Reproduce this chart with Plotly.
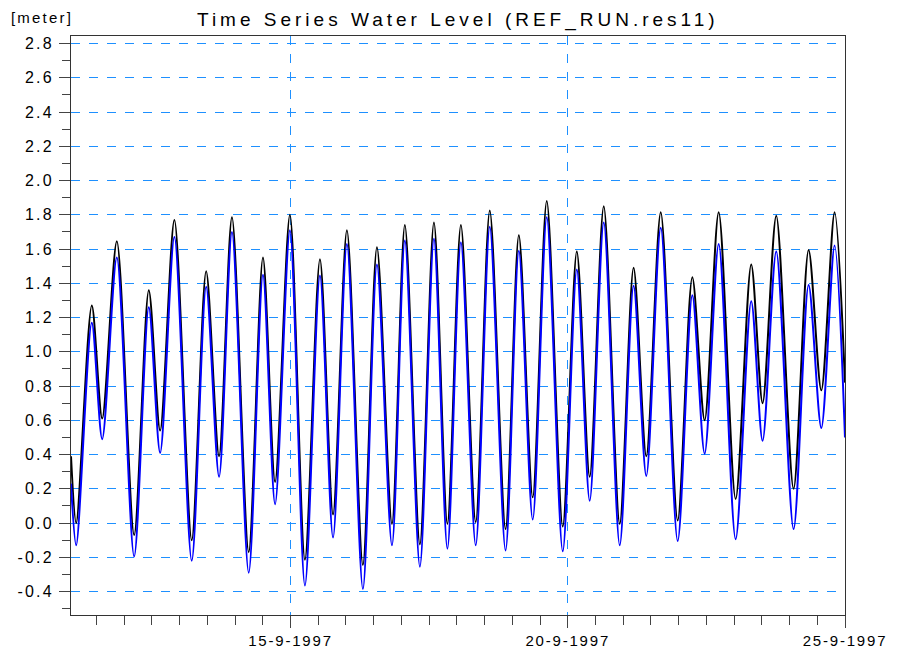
import plotly.graph_objs as go

# high / low water times (hourly model output)
times = [
    "1997-09-11 01:00", "1997-09-11 03:15", "1997-09-11 10:00", "1997-09-11 14:30", "1997-09-11 20:50",
    "1997-09-12 04:20", "1997-09-12 10:40", "1997-09-12 15:35", "1997-09-12 21:45",
    "1997-09-13 05:15", "1997-09-13 11:30", "1997-09-13 17:05", "1997-09-13 22:40",
    "1997-09-14 05:55", "1997-09-14 12:05", "1997-09-14 17:20", "1997-09-14 23:45",
    "1997-09-15 06:15", "1997-09-15 12:45", "1997-09-15 18:25",
    "1997-09-16 00:25", "1997-09-16 07:20", "1997-09-16 13:25", "1997-09-16 19:55",
    "1997-09-17 01:30", "1997-09-17 08:00", "1997-09-17 14:05", "1997-09-17 19:55",
    "1997-09-18 01:45", "1997-09-18 08:10", "1997-09-18 14:15", "1997-09-18 21:05",
    "1997-09-19 02:50", "1997-09-19 08:50", "1997-09-19 14:55", "1997-09-19 21:50",
    "1997-09-20 03:55", "1997-09-20 09:30", "1997-09-20 15:35", "1997-09-20 22:30",
    "1997-09-21 04:30", "1997-09-21 10:00", "1997-09-21 16:15", "1997-09-21 23:35",
    "1997-09-22 05:55", "1997-09-22 11:15", "1997-09-22 17:20",
    "1997-09-23 00:40", "1997-09-23 07:25", "1997-09-23 12:20", "1997-09-23 18:15",
    "1997-09-24 01:45", "1997-09-24 08:15", "1997-09-24 13:45", "1997-09-24 19:30",
    "1997-09-25 00:00",
]

level_black = [
    0.39, 0.00, 1.27, 0.61, 1.645,
    -0.07, 1.36, 0.54, 1.77,
    -0.10, 1.47, 0.39, 1.785,
    -0.17, 1.55, 0.24, 1.80,
    -0.215, 1.54, 0.05,
    1.71, -0.245, 1.61, -0.005,
    1.74, -0.125, 1.755, -0.005,
    1.74, 0.005, 1.825, -0.035,
    1.68, 0.15, 1.88, -0.02,
    1.585, 0.27, 1.85, -0.005,
    1.49, 0.39, 1.815, 0.015,
    1.435, 0.60, 1.815,
    0.14, 1.51, 0.70, 1.795,
    0.20, 1.595, 0.775, 1.815,
    0.82,
]

level_blue = [
    0.23, -0.13, 1.17, 0.49, 1.55,
    -0.195, 1.26, 0.41, 1.67,
    -0.22, 1.38, 0.27, 1.70,
    -0.29, 1.45, 0.11, 1.71,
    -0.365, 1.445, -0.085,
    1.63, -0.385, 1.51, -0.13,
    1.65, -0.255, 1.66, -0.15,
    1.64, -0.13, 1.73, -0.16,
    1.59, 0.02, 1.785, -0.165,
    1.48, 0.13, 1.755, -0.13,
    1.385, 0.275, 1.725, -0.105,
    1.33, 0.405, 1.63,
    -0.095, 1.295, 0.48, 1.585,
    -0.035, 1.39, 0.555, 1.62,
    0.50,
]

x_tickvals = ["1997-09-15", "1997-09-20", "1997-09-25"]
x_ticklabels = ["15-9-1997", "20-9-1997", "25-9-1997"]
y_tickvals = [-0.4, -0.2, 0.0, 0.2, 0.4, 0.6, 0.8, 1.0, 1.2, 1.4, 1.6, 1.8, 2.0, 2.2, 2.4, 2.6, 2.8]

grid_col = "rgb(30,144,255)"
font_fam = "Arial, Liberation Sans, sans-serif"


def spaced(s, px):
    # the original plot uses wide letter spacing everywhere
    return '<span style="letter-spacing:%.1fpx">%s</span>' % (px, s)


fig = go.Figure()
fig.add_trace(go.Scatter(x=times, y=level_black, mode="lines",
                         line=dict(color="black", width=2, shape="spline", smoothing=0.85),
                         showlegend=False))
fig.add_trace(go.Scatter(x=times, y=level_blue, mode="lines",
                         line=dict(color="#0000ff", width=2, shape="spline", smoothing=0.85),
                         showlegend=False))

# page body has an 8px margin, so the plot box is shifted up/left by 8
fig.update_layout(
    width=899, height=652,
    margin=dict(l=63, r=62, t=28, b=45, autoexpand=False),
    paper_bgcolor="white", plot_bgcolor="white",
    font=dict(family=font_fam, size=15, color="black"),
)

fig.update_xaxes(
    type="date", automargin=False,
    range=["1997-09-11 01:00", "1997-09-25 00:00"],
    tickvals=x_tickvals,
    ticktext=[spaced(t, 1.8) for t in x_ticklabels],
    ticks="outside", ticklen=12, tickcolor="#444", tickwidth=1,
    minor=dict(tick0="1997-09-15", dtick=43200000, ticks="outside", ticklen=9,
               tickcolor="#444", showgrid=False),
    showgrid=True, gridcolor=grid_col, griddash="dash", gridwidth=1,
    showline=True, linecolor="#333", linewidth=1, mirror=True,
    zeroline=False,
)

fig.update_yaxes(
    automargin=False,
    range=[-0.537, 2.844],
    tickvals=y_tickvals,
    ticktext=[spaced("%.1f" % v, 2.2) for v in y_tickvals],
    tickfont=dict(size=16),
    ticklabelstandoff=2,
    ticks="outside", ticklen=11, tickcolor="#444", tickwidth=1,
    minor=dict(tick0=0, dtick=0.1, ticks="outside", ticklen=8,
               tickcolor="#444", showgrid=False),
    showgrid=True, gridcolor=grid_col, griddash="dash", gridwidth=1,
    showline=True, linecolor="#333", linewidth=1, mirror=True,
    zeroline=False,
)

# title and unit label
fig.add_annotation(text=spaced("Time Series Water Level (REF_RUN.res11)", 4.0),
                   xref="paper", yref="paper", x=0.5, y=(615 - 20) / 579,
                   xanchor="center", yanchor="middle", showarrow=False,
                   font=dict(size=19, family=font_fam, color="black"))
fig.add_annotation(text=spaced("[meter]", 2.2), xref="paper", yref="paper",
                   x=(9 - 71) / 774, y=(615 - 17) / 579,
                   xanchor="left", yanchor="middle", showarrow=False,
                   font=dict(size=15, family=font_fam, color="black"))

fig.write_html("out.html")
